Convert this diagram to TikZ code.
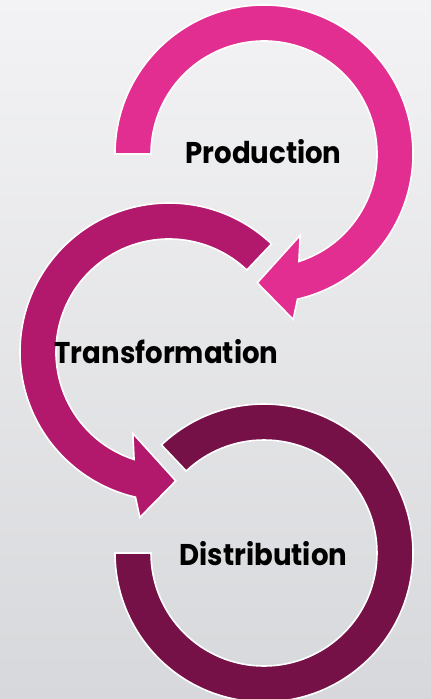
\documentclass[tikz,border=0pt]{standalone}
\usepackage{fontspec}
\setmainfont{Poppins}[FakeStretch=0.92]
\usepackage{tikz}
\usetikzlibrary{calc, positioning}
\definecolor{mypink}{RGB}{227,46,145}
\definecolor{mymagenta}{RGB}{178,25,108}
\definecolor{myplum}{RGB}{118,17,72}
\definecolor{bgtop}{RGB}{243,243,245}
\definecolor{bgbottom}{RGB}{215,216,219}

\begin{document}
\begin{tikzpicture}[x=1pt, y=1pt,
    band/.style={draw=white, line width=1.6pt, line join=miter},
    lbl/.style={font=\fontsize{30}{36}\selectfont\bfseries, text=black, anchor=base, inner sep=0pt}]
    % Background
    \useasboundingbox (0,0) rectangle (431,-699);
    \shade[top color=bgtop, bottom color=bgbottom] (0,0) rectangle (431,-699);

    % Centres of the three rings
    \coordinate (c1) at (264,-154);
    \coordinate (c2) at (169,-352);
    \coordinate (c3) at (264,-553);

    % Distribution ring
    \fill[band, fill=myplum] ($(c3)+(133.5:149)$) arc[start angle=133.5, end angle=-180, radius=149]
        -- ($(c3)+(180:113)$) arc[start angle=-180, end angle=133.5, radius=113] -- cycle;

    % Transformation arrow
    \fill[band, fill=mymagenta] ($(c2)+(46.5:149)$) arc[start angle=46.5, end angle=257, radius=149]
        -- ($(c2)+(260:168)$) -- ($(c2)+(273:129)$) -- ($(c2)+(246:89)$)
        -- ($(c2)+(252:113)$) arc[start angle=252, end angle=46.5, radius=113] -- cycle;

    % Production arrow
    \fill[band, fill=mypink] ($(c1)+(180:149)$) arc[start angle=180, end angle=-77, radius=149]
        -- ($(c1)+(-80:168)$) -- ($(c1)+(-93:129)$) -- ($(c1)+(-66:89)$)
        -- ($(c1)+(-72:113)$) arc[start angle=-72, end angle=180, radius=113] -- cycle;

    % Labels
    \node[lbl] (prod) at (263.5,-163) {Production};
    \node[lbl] (trans) at (166.5,-363) {Transformation};
    \node[lbl] (dist) at (263.5,-565) {Distribution};
\end{tikzpicture}
\end{document}
